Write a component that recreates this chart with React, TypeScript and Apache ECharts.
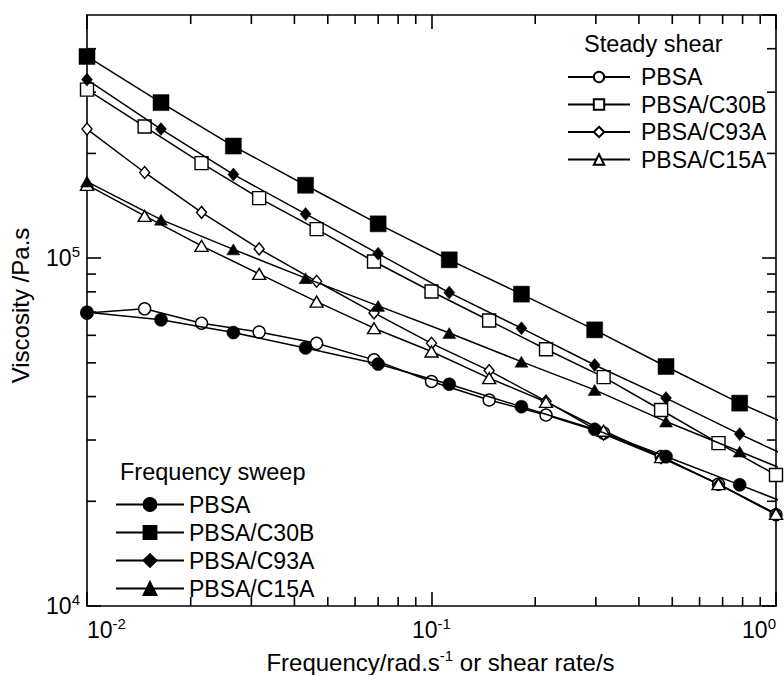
import React, { useEffect, useRef } from 'react';
import * as echarts from 'echarts';

const FONT = '"Liberation Sans", Arial, Helvetica, sans-serif';

// Frequency sweep (filled symbols), angular frequency in rad/s
const sweepFreq = [0.01, 0.0164, 0.0266, 0.0431, 0.07, 0.1126, 0.1824, 0.2976, 0.4795, 0.7845, 1.27];
const sweepPBSA = [69900, 66500, 61100, 55200, 49600, 43400, 37400, 32200, 26900, 22300, 18500];
const sweepC30B = [380000, 280000, 210000, 162000, 125500, 98900, 78800, 62200, 48800, 38300, 31000];
const sweepC93A = [326000, 235000, 174000, 134000, 103000, 79600, 62900, 49300, 39600, 31200, 25000];
const sweepC15A = [166000, 129000, 106000, 87600, 72900, 60900, 50400, 41800, 33900, 27800, 22900];

// Steady shear (open symbols), shear rate in 1/s
const shearRate = [0.01, 0.0147, 0.0215, 0.0316, 0.0464, 0.0681, 0.1, 0.147, 0.215, 0.316, 0.464, 0.681, 1.0];
const steadyPBSA = [69500, 71500, 65000, 61300, 56900, 51000, 44200, 39100, 35400, 31400, 26900, 22400, 18300];
const steadyC30B = [305000, 239000, 187600, 148800, 121200, 97800, 80200, 66200, 54700, 45500, 36600, 29400, 23800];
const steadyC93A = [235000, 176300, 135400, 106300, 85800, 69600, 56900, 47500, 38800, 31200, 26700, 22400, 18400];
const steadyC15A = [162500, 132300, 108500, 90100, 75000, 62900, 53900, 45200, 38600, 31900, 26800, 22400, 18400];

const materialNames = ['PBSA', 'PBSA/C30B', 'PBSA/C93A', 'PBSA/C15A'];

const xMinorTicks = [0.02, 0.03, 0.04, 0.05, 0.06, 0.07, 0.08, 0.09, 0.2, 0.3, 0.4, 0.5, 0.6, 0.7, 0.8, 0.9];
const yMinorTicks = [20000, 30000, 40000, 50000, 60000, 70000, 80000, 90000, 200000, 300000, 400000];

const pairs = (xs: number[], ys: number[]) => ys.map((y, i) => [xs[i], y]);

const powLabel = (v: number) => {
  const l = Math.log10(v);
  const e = Math.round(l);
  if (Math.abs(l - e) > 1e-6) return '';
  return `{b|10}{s|${e}}`;
};

const richLabel = {
  b: { fontSize: 23, lineHeight: 28, fontFamily: FONT, color: '#000' },
  s: { fontSize: 15, lineHeight: 15, verticalAlign: 'top', fontFamily: FONT, color: '#000' },
};

export default function App() {
  const ref = useRef<HTMLDivElement>(null);

  useEffect(() => {
    if (!ref.current) return;
    const chart = echarts.init(ref.current, null, { renderer: 'svg' });

    const filled = (name: string, xs: number[], ys: number[], symbol: string, size: any) => ({
      name,
      type: 'line',
      xAxisIndex: 0,
      yAxisIndex: 0,
      data: pairs(xs, ys),
      symbol,
      symbolSize: size,
      showAllSymbol: true,
      lineStyle: { color: '#000', width: 1.5 },
      itemStyle: { color: '#000', borderColor: '#000', borderWidth: 0.5 },
      z: 3,
    });
    const hollow = (name: string, xs: number[], ys: number[], symbol: string, size: any) => ({
      name,
      type: 'line',
      xAxisIndex: 0,
      yAxisIndex: 0,
      data: pairs(xs, ys),
      symbol,
      symbolSize: size,
      showAllSymbol: true,
      lineStyle: { color: '#000', width: 1.5 },
      itemStyle: { color: '#fff', borderColor: '#000', borderWidth: 1.4 },
      z: 2,
    });

    const steadyNames = materialNames.map((n) => n + ' ');

    const axisLineStyle = { color: '#000', width: 1.6 };
    const titleStyle = { fontSize: 23.5, lineHeight: 24, fontWeight: 'normal', color: '#000', fontFamily: FONT };

    chart.setOption({
      animation: false,
      backgroundColor: '#fff',
      textStyle: { fontFamily: FONT, color: '#000' },
      grid: { left: 87, top: 15, width: 689, height: 591, containLabel: false, outerBoundsMode: 'none' },
      title: [
        { text: 'Steady shear', left: 584, top: 31.5, padding: 0, textStyle: titleStyle },
        { text: 'Frequency sweep', left: 120, top: 459.5, padding: 0, textStyle: titleStyle },
      ],
      legend: [
        {
          data: steadyNames,
          orient: 'vertical',
          left: 567,
          top: 65.5,
          padding: 0,
          itemWidth: 62,
          itemHeight: 13,
          itemGap: 4.5,
          selectedMode: false,
          formatter: (n: string) => n.trim(),
          textStyle: { fontSize: 23, lineHeight: 22, color: '#000', fontFamily: FONT, padding: [0, 0, 0, 6] },
        },
        {
          data: materialNames,
          orient: 'vertical',
          left: 115,
          top: 493,
          padding: 0,
          itemWidth: 68,
          itemHeight: 16,
          itemGap: 5,
          selectedMode: false,
          textStyle: { fontSize: 23, lineHeight: 22, color: '#000', fontFamily: FONT },
        },
      ],
      xAxis: [
        {
          type: 'log',
          logBase: 10,
          min: 0.01,
          max: 1,
          position: 'bottom',
          axisLine: { show: true, lineStyle: axisLineStyle },
          axisTick: { show: true, inside: true, length: 14, lineStyle: axisLineStyle },
          splitLine: { show: false },
          axisLabel: {
            show: true,
            margin: 10,
            formatter: powLabel,
            rich: richLabel,
            alignMinLabel: 'left',
            alignMaxLabel: 'right',
          },
          name: '{a|Frequency/rad.s}{s|-1}{a| or shear rate/s}',
          nameLocation: 'middle',
          nameGap: 42,
          nameTextStyle: {
            padding: [0, 0, 0, 18],
            rich: {
              a: { fontSize: 24, lineHeight: 28, fontFamily: FONT, color: '#000' },
              s: { fontSize: 15, lineHeight: 15, verticalAlign: 'top', fontFamily: FONT, color: '#000' },
            },
          },
        },
        {
          type: 'log',
          logBase: 10,
          min: 0.01,
          max: 1,
          position: 'top',
          axisLine: { show: true, lineStyle: axisLineStyle },
          axisTick: { show: true, inside: true, length: 14, lineStyle: axisLineStyle },
          splitLine: { show: false },
          axisLabel: { show: false },
        },
      ],
      yAxis: [
        {
          type: 'log',
          logBase: 10,
          min: 10000,
          max: 500000,
          position: 'left',
          axisLine: { show: true, lineStyle: axisLineStyle },
          axisTick: { show: true, inside: true, length: 14, lineStyle: axisLineStyle },
          splitLine: { show: false },
          axisLabel: { show: true, margin: 7, formatter: powLabel, rich: richLabel, showMaxLabel: false },
          name: 'Viscosity /Pa.s',
          nameLocation: 'middle',
          nameRotate: 90,
          nameGap: 55,
          nameTextStyle: { fontSize: 24, lineHeight: 24, fontFamily: FONT, color: '#000', padding: [0, 0, 0, 10] },
        },
        {
          type: 'log',
          logBase: 10,
          min: 10000,
          max: 500000,
          position: 'right',
          axisLine: { show: true, lineStyle: axisLineStyle },
          axisTick: { show: true, inside: true, length: 14, lineStyle: axisLineStyle },
          splitLine: { show: false },
          axisLabel: { show: false },
        },
      ],
      series: [
        hollow(steadyNames[0], shearRate, steadyPBSA, 'circle', 12),
        hollow(steadyNames[1], shearRate, steadyC30B, 'rect', 13),
        hollow(steadyNames[2], shearRate, steadyC93A, 'diamond', [10, 12]),
        hollow(steadyNames[3], shearRate, steadyC15A, 'triangle', [13, 11]),
        filled(materialNames[0], sweepFreq, sweepPBSA, 'circle', 13),
        filled(materialNames[1], sweepFreq, sweepC30B, 'rect', 16),
        filled(materialNames[2], sweepFreq, sweepC93A, 'diamond', [11, 13]),
        filled(materialNames[3], sweepFreq, sweepC15A, 'triangle', [13, 11]),
      ],
    });

    // minor ticks on all four sides, positioned through the axes' own scales
    const xp = (v: number) => chart.convertToPixel({ xAxisIndex: 0 }, v) as number;
    const yp = (v: number) => chart.convertToPixel({ yAxisIndex: 0 }, v) as number;
    const left = xp(0.01);
    const right = xp(1);
    const bottom = yp(10000);
    const top = yp(500000);
    const L = 9;
    const st = { stroke: '#000', lineWidth: 1.6 };
    const g: any[] = [];
    xMinorTicks.forEach((v) => {
      const x = xp(v);
      g.push({ type: 'line', shape: { x1: x, y1: bottom, x2: x, y2: bottom - L }, style: st, silent: true });
      g.push({ type: 'line', shape: { x1: x, y1: top, x2: x, y2: top + L }, style: st, silent: true });
    });
    yMinorTicks.forEach((v) => {
      const y = yp(v);
      g.push({ type: 'line', shape: { x1: left, y1: y, x2: left + L, y2: y }, style: st, silent: true });
      g.push({ type: 'line', shape: { x1: right, y1: y, x2: right - L, y2: y }, style: st, silent: true });
    });
    chart.setOption({ graphic: g });

    return () => chart.dispose();
  }, []);

  return <div ref={ref} style={{ width: 784, height: 675, position: 'absolute', left: 0, top: 0 }} />;
}
